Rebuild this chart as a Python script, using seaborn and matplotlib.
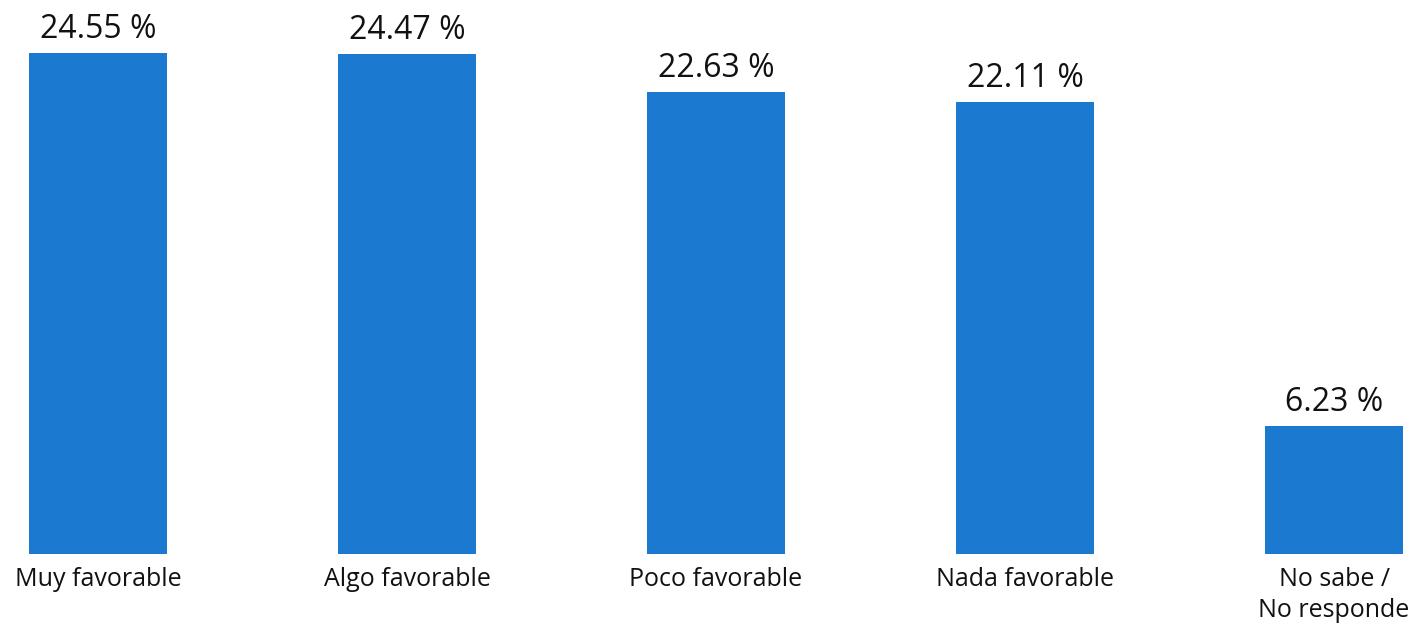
import pandas as pd
import seaborn as sns
import matplotlib.pyplot as plt

categories = ["Muy favorable", "Algo favorable", "Poco favorable", "Nada favorable", "No sabe /\nNo responde"]
values = [24.55, 24.47, 22.63, 22.11, 6.23]
value_labels = ["24.55 %", "24.47 %", "22.63 %", "22.11 %", "6.23 %"]

df = pd.DataFrame({"respuesta": categories, "porcentaje": values})

sns.set_style("white")
plt.rcParams["font.family"] = ["Open Sans", "DejaVu Sans"]

fig = plt.figure(figsize=(14.12, 6.26), dpi=100)
ax = fig.add_axes([0, 0.1158, 1, 0.88])

sns.barplot(data=df, x="respuesta", y="porcentaje", color="#1b7acf",
            saturation=1, width=0.447, linewidth=0, ax=ax)

ax.bar_label(ax.containers[0], labels=value_labels, padding=5,
             fontsize=23, color="#111111")

ax.set_xlim(-0.317, 4.252)
ax.set_ylim(0, 27)
ax.set_xlabel("")
ax.set_ylabel("")
ax.set_yticks([])
ax.tick_params(axis="x", length=0, pad=10, labelsize=18, labelcolor="#111111")
for lbl in ax.get_xticklabels():
    lbl.set_linespacing(1.3)
sns.despine(ax=ax, left=True, bottom=True)

fig.savefig("out.png", dpi=100)
